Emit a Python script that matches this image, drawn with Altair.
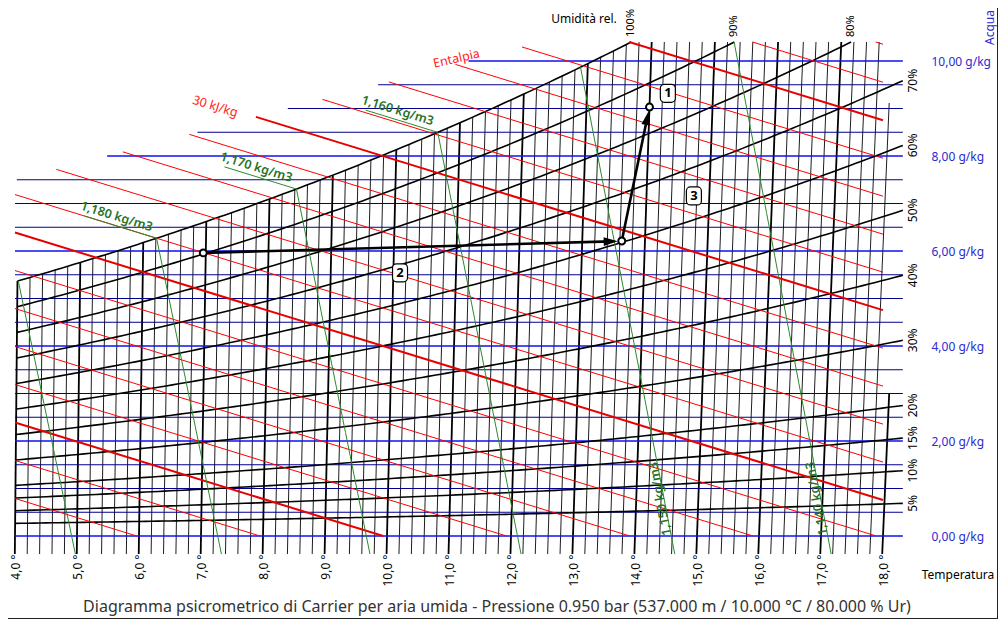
import math
import numpy as np
import pandas as pd
import altair as alt

# ------------------------------------------------------------------ data
PRESSURE_KPA = 95.0          # 0.950 bar
R_DRY = 287.1

TEMP_LABELS = [4.0, 5.0, 6.0, 7.0, 8.0, 9.0, 10.0, 11.0, 12.0, 13.0, 14.0, 15.0, 16.0, 17.0, 18.0]
ISOTHERMS = [round(4.0 + 0.2 * k, 1) for k in range(71)]          # every 0.2 °C
WATER_LINES = [round(0.5 * k, 1) for k in range(21)]              # every 0.5 g/kg
WATER_LABELS = [0.0, 2.0, 4.0, 6.0, 8.0, 10.0]
RH_LEVELS = [100, 90, 80, 70, 60, 50, 40, 30, 20, 15, 10, 5]
ENTHALPY_LINES = [6, 8, 10, 12, 14, 16, 18, 20, 22, 24, 26, 28, 30, 32, 34, 36, 38, 40, 42, 44]
ENTHALPY_BOLD = [10, 20, 30, 40]
DENSITY_LINES = [1.190, 1.180, 1.170, 1.160, 1.150, 1.140]
DENSITY_LEADER = [1.180, 1.170, 1.160]
DENSITY_INLINE = [1.150, 1.140]

STATE_NAMES = ["1", "2", "3"]
STATE_T = [14.0, 6.96, 13.63]
STATE_W = [9.03, 5.96, 6.21]
PROCESS_FROM = ["2", "3"]
PROCESS_TO = ["3", "1"]
BADGE_X = [14.53, 10.21, 14.95]
BADGE_W = [9.32, 5.54, 7.16]

EDGE_X = [4.0, 12.48]     # left (enthalpy scale) edge of the grid
EDGE_W = [7.49, 10.4]
W_TOP = 10.4
W_TICK = -0.38
X_LEFT = 4.0
X_RIGHT_ENTH = 18.0
X_RIGHT_ISO = 18.1
X_RIGHT_LINES = 18.32

TITLE = ("Diagramma psicrometrico di Carrier per aria umida - Pressione 0.950 bar "
         "(537.000 m / 10.000 °C / 80.000 % Ur)")

# ------------------------------------------------------------------ geometry helpers
PLOT_W, PLOT_H = 868, 494
PXX = PLOT_W / (18.0 - 4.0)
PXW = PLOT_H / W_TOP
EDGE_S = (EDGE_W[1] - EDGE_W[0]) / (EDGE_X[1] - EDGE_X[0])


def pws(T):
    return 0.61094 * math.exp(17.625 * T / (T + 243.04))


def w_of(T, phi):
    pv = phi * pws(T)
    return 622.0 * pv / (PRESSURE_KPA - pv)


def skew(T, w):
    return T * (1.0 + 1.86 * w / 1006.0)


def bisect(f, a, b, n=60):
    fa = f(a)
    for _ in range(n):
        m = 0.5 * (a + b)
        fm = f(m)
        if (fm > 0) == (fa > 0):
            a, fa = m, fm
        else:
            b = m
    return 0.5 * (a + b)


def w_enth(h, X):
    return (h - 1.006 * X) / 2.501


def T_rho(rho, w):
    return PRESSURE_KPA * 1000 / (R_DRY * rho) * (1 + w / 1000) / (1 + 1.6078 * w / 1000) - 273.15


rows = []


def add_path(kind, pts):
    pid = rows[-1]["path"] + 1 if rows else 0
    for i, (x, w) in enumerate(pts):
        rows.append({"path": pid, "i": i, "X": x, "w": w, "kind": kind})


# isotherms
for T in ISOTHERMS:
    w_hi = min(w_of(T, 1.0), W_TOP, (X_RIGHT_ISO / T - 1) * 1006 / 1.86)
    kind = "iso_major" if abs(T - round(T)) < 1e-6 else "iso_minor"
    add_path(kind, [(skew(T, W_TICK), W_TICK), (skew(T, w_hi), w_hi)])

# water content lines
for w in WATER_LINES:
    x0 = max(X_LEFT, EDGE_X[0] + (w - EDGE_W[0]) / EDGE_S)
    kind = "w_major" if w in WATER_LABELS else "w_minor"
    add_path(kind, [(x0, w), (X_RIGHT_LINES, w)])

# enthalpy lines
enth_start = {}
for h in ENTHALPY_LINES:
    xb = (h - 2.501 * (EDGE_W[0] - EDGE_S * EDGE_X[0])) / (1.006 + 2.501 * EDGE_S)
    xt = (h - 2.501 * W_TOP) / 1.006
    x0 = max(X_LEFT, xb, xt)
    x1 = min(X_RIGHT_ENTH, h / 1.006)
    if x1 > x0:
        kind = "h_bold" if h in ENTHALPY_BOLD else "h_thin"
        add_path(kind, [(x0, w_enth(h, x0)), (x1, w_enth(h, x1))])
        enth_start[h] = (x0, w_enth(h, x0))

# relative humidity curves
rh_ends = []
for rh in RH_LEVELS:
    phi = rh / 100.0

    def inside(T, phi=phi):
        w = w_of(T, phi)
        return 1 if (skew(T, w) <= X_RIGHT_LINES and w <= W_TOP) else -1

    T_end = bisect(inside, 4.0, 30.0)
    Ts = [4.0 + 0.1 * k for k in range(int((T_end - 4.0) / 0.1) + 1)] + [T_end]
    add_path("rh", [(skew(T, w_of(T, phi)), w_of(T, phi)) for T in Ts])
    we = w_of(T_end, phi)
    rh_ends.append({"label": f"{rh}%", "X": skew(T_end, we), "w": min(we, W_TOP),
                    "top": bool(we >= W_TOP - 0.01)})

# density lines
dens_sat = {}
for rho in DENSITY_LINES:
    ws_ = bisect(lambda w: w_of(T_rho(rho, w), 1.0) - w, 0.0, 20.0)
    w_hi = min(ws_, W_TOP)
    dens_sat[rho] = (skew(T_rho(rho, w_hi), w_hi), w_hi)
    ws_grid = [W_TICK + (w_hi - W_TICK) * k / 6 for k in range(7)]
    add_path("rho", [(skew(T_rho(rho, w), w), w) for w in ws_grid])

ENTH_ANGLE = math.degrees(math.atan((1.006 / 2.501) * PXW / PXX))
LEADER_DX = 72 / PXX
dens_labels = []
for rho in DENSITY_LEADER:
    xs, ws_ = dens_sat[rho]
    xe, we = xs - LEADER_DX, ws_ + 1.006 / 2.501 * LEADER_DX
    add_path("rho", [(xs, ws_), (xe, we)])
    dens_labels.append({"X": 0.5 * (xs + xe), "w": 0.5 * (ws_ + we),
                        "label": f"{rho:.3f}".replace(".", ",") + " kg/m3", "angle": ENTH_ANGLE})

inline_labels = []
for rho in DENSITY_INLINE:
    wl = 0.8
    xa, xb_ = skew(T_rho(rho, 0.3), 0.3), skew(T_rho(rho, 1.3), 1.3)
    ang = math.degrees(math.atan2(-1.0 * PXW, (xb_ - xa) * PXX)) % 360
    inline_labels.append({"X": skew(T_rho(rho, wl), wl), "w": wl,
                          "label": f"{rho:.3f}".replace(".", ",") + " kg/m3", "angle": ang})

paths = pd.DataFrame(rows)

# process
states = pd.DataFrame({"name": STATE_NAMES,
                       "X": [skew(t, w) for t, w in zip(STATE_T, STATE_W)],
                       "w": STATE_W})
spos = {r.name: (r.X, r.w) for r in states.itertuples()}
arrow_rows, head_rows = [], []
for a, b in zip(PROCESS_FROM, PROCESS_TO):
    (x1, w1), (x2, w2) = spos[a], spos[b]
    dxp, dyp = (x2 - x1) * PXX, -(w2 - w1) * PXW
    L = math.hypot(dxp, dyp)
    ux, uy = dxp / L, dyp / L
    back = 11.0
    hx, hw = x2 - ux * back / PXX, w2 + uy * back / PXW
    arrow_rows.append({"X": x1, "w": w1, "X2": hx, "w2": hw})
    head_rows.append({"X": hx, "w": hw, "angle": math.degrees(math.atan2(dyp, dxp)) % 360})
arrows = pd.DataFrame(arrow_rows)
heads = pd.DataFrame(head_rows)

badges = pd.DataFrame({"name": STATE_NAMES, "X": BADGE_X, "w": BADGE_W})
badges["x0"] = badges.X - 7.5 / PXX
badges["x1"] = badges.X + 7.5 / PXX
badges["w0"] = badges.w - 9.0 / PXW
badges["w1"] = badges.w + 9.0 / PXW

rh_df = pd.DataFrame(rh_ends)
rh_top = rh_df[rh_df.top].copy()
rh_side = rh_df[~rh_df.top].copy()
bold30 = pd.DataFrame([{"X": enth_start[30][0], "w": enth_start[30][1], "label": "30 kJ/kg"}])

# ------------------------------------------------------------------ chart
FONT = "Noto Sans"
XS = alt.Scale(domain=[4.0, 18.0], nice=False, zero=False)
YS = alt.Scale(domain=[0.0, W_TOP], nice=False, zero=False)
X_AXIS = alt.Axis(values=TEMP_LABELS, grid=False, domain=False, ticks=False,
                  labelExpr="replace(format(datum.value, '.1f'), '.', ',') + ' °'",
                  labelAngle=270, labelAlign="right", labelBaseline="middle",
                  labelPadding=18, labelFontSize=12, labelColor="#000000",
                  labelFont=FONT, labelOverlap=False, labelFlush=False, labelBound=False)
Y_AXIS = alt.Axis(orient="right", values=WATER_LABELS, grid=False, domain=False, ticks=False,
                  labelExpr="replace(format(datum.value, '.2f'), '.', ',') + ' g/kg'",
                  labelAlign="left", labelBaseline="middle", labelPadding=48,
                  labelFontSize=12, labelColor="#2a2ad0", labelFont=FONT,
                  labelOverlap=False, labelFlush=False, labelBound=False)


def ex(field):
    return alt.X(field, type="quantitative", scale=XS, axis=X_AXIS, title=None)


def ey(field):
    return alt.Y(field, type="quantitative", scale=YS, axis=Y_AXIS, title=None)


def lines(kind, color, width):
    return alt.Chart(paths).transform_filter(alt.datum.kind == kind).mark_line(
        color=color, strokeWidth=width, strokeCap="butt").encode(
        x=ex("X"), y=ey("w"), detail="path:N", order="i:Q")


layers = [
    lines("iso_minor", "#1e1e1e", 1.0),
    lines("iso_major", "#000000", 1.8),
    lines("w_minor", "#00008a", 1.0),
    lines("w_major", "#1010f0", 1.3),
    lines("rh", "#000000", 1.6),
    lines("h_thin", "#ff0000", 1.0),
    lines("h_bold", "#e80000", 2.0),
    lines("rho", "#2a8a2a", 1.0),
]

layers.append(alt.Chart(arrows).mark_rule(color="#000000", strokeWidth=2.6).encode(
    x=ex("X"), y=ey("w"), x2="X2:Q", y2="w2:Q"))
layers.append(alt.Chart(heads).mark_point(
    shape="M 1 0 L -1 -0.62 L -1 0.62 Z", filled=True, color="#000000", opacity=1, size=200).encode(
    x=ex("X"), y=ey("w"), angle=alt.Angle("angle:Q", scale=None)))
layers.append(alt.Chart(states).mark_point(
    shape="circle", filled=True, fill="#ffffff", stroke="#000000", strokeWidth=2.0, opacity=1, size=48).encode(
    x=ex("X"), y=ey("w")))
layers.append(alt.Chart(badges).mark_rect(
    fill="#ffffff", stroke="#000000", strokeWidth=1.2, cornerRadius=4).encode(
    x=ex("x0"), x2="x1:Q", y=ey("w0"), y2="w1:Q"))
layers.append(alt.Chart(badges).mark_text(
    font=FONT, fontSize=13, fontWeight="bold", color="#000000", align="center", baseline="middle").encode(
    x=ex("X"), y=ey("w"), text="name:N"))

# RH labels
layers.append(alt.Chart(rh_top).mark_text(
    font=FONT, fontSize=11, color="#000000", angle=270, align="left", baseline="middle", dx=5).encode(
    x=ex("X"), y=ey("w"), text="label:N"))
layers.append(alt.Chart(rh_side).mark_text(
    font=FONT, fontSize=12, color="#000000", angle=270, align="center", baseline="middle", dy=10).encode(
    x=ex("X"), y=ey("w"), text="label:N"))

# density labels
layers.append(alt.Chart(pd.DataFrame(dens_labels)).mark_text(
    font=FONT, fontSize=12.5, fontWeight=600, color="#267326", align="center", baseline="middle",
    dx=-7, dy=-9).encode(
    x=ex("X"), y=ey("w"), text="label:N", angle=alt.Angle("angle:Q", scale=None)))
layers.append(alt.Chart(pd.DataFrame(inline_labels)).mark_text(
    font=FONT, fontSize=12.5, fontWeight=600, color="#267326", align="center", baseline="middle",
    dy=-4).encode(
    x=ex("X"), y=ey("w"), text="label:N", angle=alt.Angle("angle:Q", scale=None)))

# enthalpy labels
layers.append(alt.Chart(bold30).mark_text(
    font=FONT, fontSize=12.5, color="#ff2020", align="center", baseline="middle", dx=-42, dy=2,
    angle=round(ENTH_ANGLE, 2)).encode(
    x=ex("X"), y=ey("w"), text="label:N"))
layers.append(alt.Chart(pd.DataFrame({"X": [11.12], "w": [10.05], "label": ["Entalpia"]})).mark_text(
    font=FONT, fontSize=12.5, color="#ff2020", align="center", baseline="middle", angle=347).encode(
    x=ex("X"), y=ey("w"), text="label:N"))


def free_text(txt, x, y, **kw):
    return alt.Chart(pd.DataFrame({"t": [txt]})).mark_text(font=FONT, **kw).encode(
        text="t:N", x=alt.value(x), y=alt.value(y))


layers.append(free_text(TITLE, 482, 565, fontSize=16, color="#333333", align="center", baseline="middle"))
layers.append(free_text("Temperatura", 943, 533, fontSize=12, color="#000000", align="center", baseline="middle"))
layers.append(free_text("Umidità rel.", 569, -23, fontSize=12, color="#000000", align="center", baseline="middle"))
layers.append(free_text("Acqua", 975, 3, fontSize=12, color="#2a2ad0", align="left", baseline="middle", angle=270))

frame = pd.DataFrame({"k": [0]})
layers.append(alt.Chart(frame).mark_rule(color="#222222", strokeWidth=1).encode(
    x=alt.value(982.5), y=alt.value(-42), y2=alt.value(577)))
layers.append(alt.Chart(frame).mark_rule(color="#222222", strokeWidth=1).encode(
    x=alt.value(-15), x2=alt.value(983), y=alt.value(576.5)))

chart = alt.layer(*layers).properties(
    width=PLOT_W, height=PLOT_H,
    autosize="none",
    padding={"left": 7, "top": 34, "right": 115, "bottom": 85},
    background="#ffffff",
).configure_view(stroke=None)

chart.save("out.html", embed_options={"renderer": "svg", "actions": False})
